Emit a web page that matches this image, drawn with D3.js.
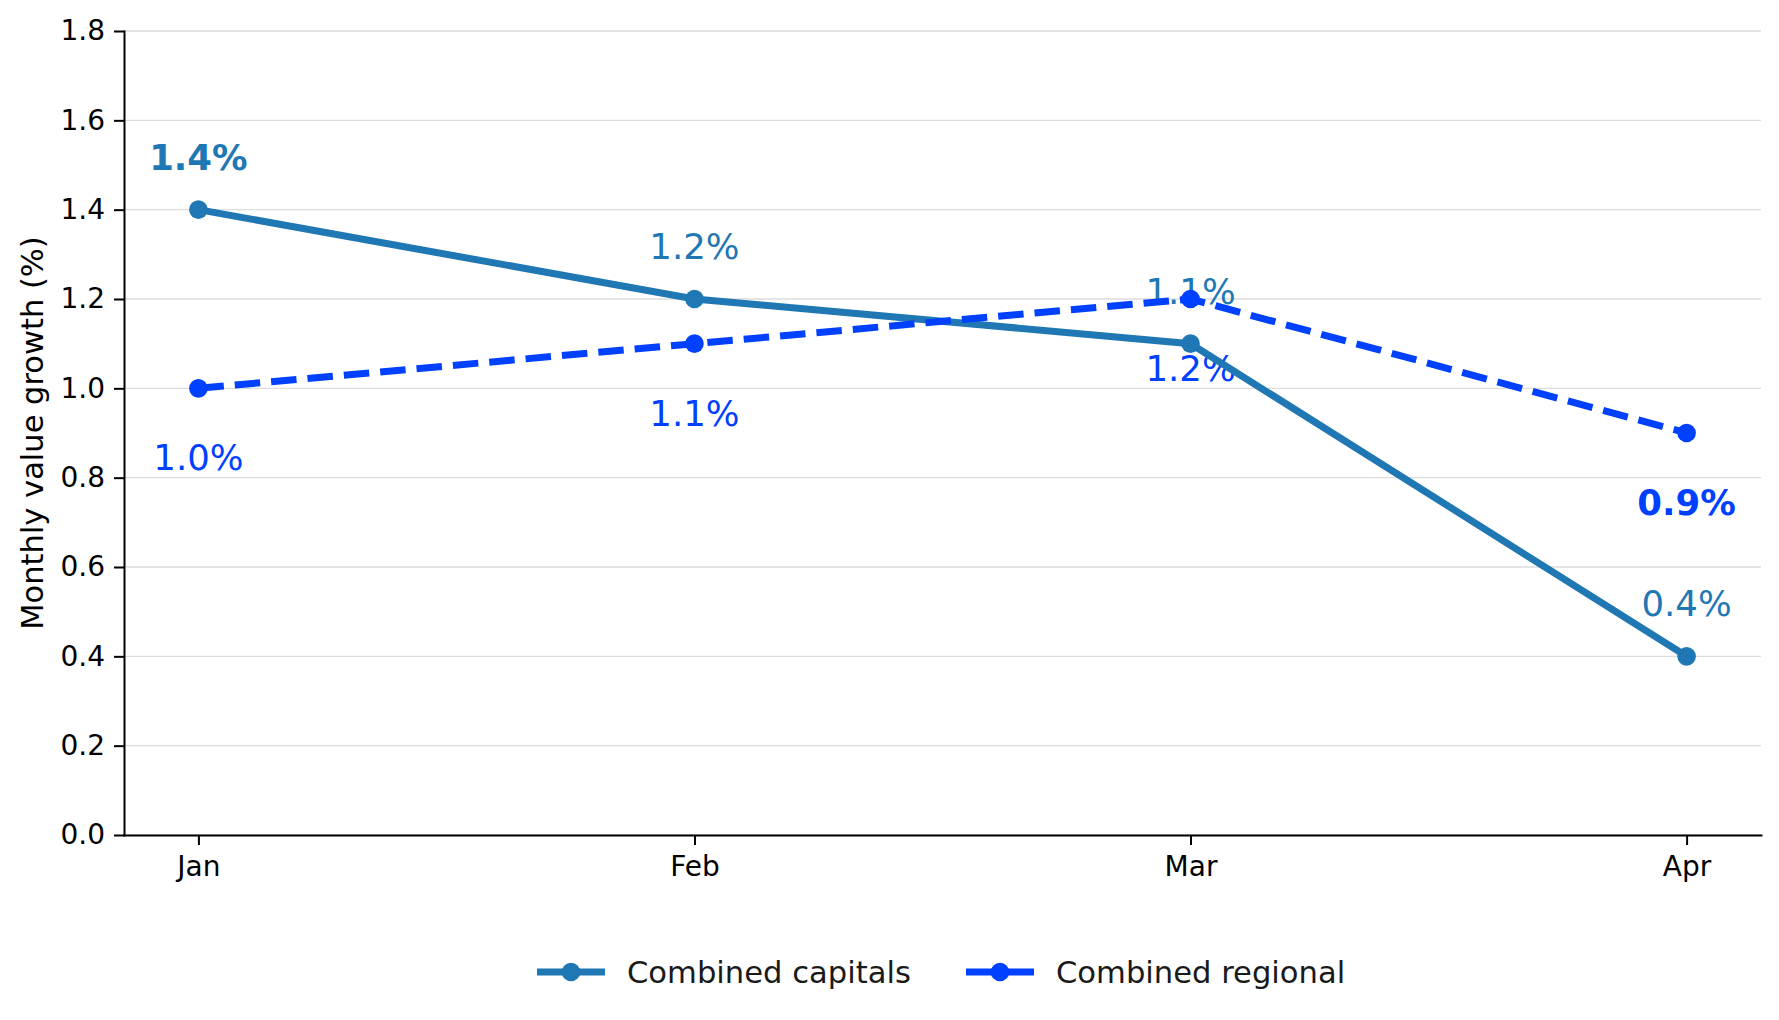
<!DOCTYPE html>
<html>
<head>
<meta charset="utf-8">
<script src="https://cdn.jsdelivr.net/npm/d3@7"></script>
<style>
  body { margin: 0; background: #fff; }
  svg { display: block; font-family: "DejaVu Sans", sans-serif; }
  .grid line { stroke: #dddddd; stroke-width: 1.3; }
  .axis path, .axis line { stroke: #000; stroke-width: 2; }
  .axis text { font-family: "DejaVu Sans", sans-serif; font-size: 28px; fill: #000; }
</style>
</head>
<body>
<svg id="chart" width="1779" height="1020"></svg>
<script>
// Data
const months = ["Jan", "Feb", "Mar", "Apr"];
const capitals = [1.4, 1.2, 1.1, 0.4];
const regional = [1.0, 1.1, 1.2, 0.9];
const yTicks = [0, 0.2, 0.4, 0.6, 0.8, 1.0, 1.2, 1.4, 1.6, 1.8];
const seriesNames = ["Combined capitals", "Combined regional"];
const seriesColors = ["#1f77b4", "#0040ff"];
// which point label is bold, per series
const boldIndex = [0, 3];

const width = 1779, height = 1020;
const margin = { top: 31, right: 18, bottom: 185, left: 124 };

const svg = d3.select("#chart");

const x = d3.scaleLinear()
  .domain([-0.15, months.length - 1 + 0.15])
  .range([margin.left, width - margin.right]);

const y = d3.scaleLinear()
  .domain([0, 1.8])
  .range([height - margin.bottom, margin.top]);

// Grid
svg.append("g")
  .attr("class", "grid")
  .selectAll("line")
  .data(yTicks)
  .join("line")
  .attr("x1", margin.left)
  .attr("x2", width - margin.right)
  .attr("y1", d => y(d))
  .attr("y2", d => y(d));

// Axes
svg.append("g")
  .attr("class", "axis")
  .attr("transform", `translate(${margin.left},0)`)
  .call(d3.axisLeft(y).tickValues(yTicks).tickFormat(d3.format(".1f")).tickSize(10).tickSizeOuter(0).tickPadding(9));

svg.append("g")
  .attr("class", "axis")
  .attr("transform", `translate(0,${height - margin.bottom})`)
  .call(d3.axisBottom(x).tickValues(d3.range(months.length)).tickFormat(i => months[i]).tickSize(10).tickSizeOuter(0).tickPadding(11));

svg.selectAll(".axis .domain").attr("stroke-linecap", "square");

// Y label
svg.append("text")
  .attr("transform", `translate(32,${(margin.top + height - margin.bottom) / 2}) rotate(-90)`)
  .attr("text-anchor", "middle")
  .attr("dominant-baseline", "central")
  .style("font-size", "30.5px")
  .style("fill", "#000")
  .text("Monthly value growth (%)");

// Point labels (drawn under the lines)
const series = [capitals, regional];
series.forEach((vals, s) => {
  svg.append("g")
    .selectAll("text")
    .data(vals)
    .join("text")
    .attr("x", (d, i) => x(i))
    .attr("y", d => s === 0 ? y(d) - 40 : y(d) + 82)
    .attr("text-anchor", "middle")
    .style("font-size", "35.5px")
    .style("font-weight", (d, i) => i === boldIndex[s] ? "bold" : "normal")
    .style("fill", seriesColors[s])
    .text(d => d.toFixed(1) + "%");
});

// Lines
const line = d3.line().x((d, i) => x(i)).y(d => y(d));

series.forEach((vals, s) => {
  svg.append("path")
    .datum(vals)
    .attr("d", line)
    .attr("fill", "none")
    .attr("stroke", seriesColors[s])
    .attr("stroke-width", 7)
    .attr("stroke-dasharray", s === 1 ? "25.5,11" : null);

  svg.append("g")
    .selectAll("circle")
    .data(vals)
    .join("circle")
    .attr("cx", (d, i) => x(i))
    .attr("cy", d => y(d))
    .attr("r", 9.3)
    .attr("fill", seriesColors[s]);
});

// Legend
const legendY = 972;
const legendX = [537, 966];
seriesNames.forEach((name, s) => {
  const g = svg.append("g").attr("transform", `translate(${legendX[s]},${legendY})`);
  g.append("line")
    .attr("x1", 0).attr("x2", 68)
    .attr("stroke", seriesColors[s])
    .attr("stroke-width", 7);
  g.append("circle").attr("cx", 34).attr("r", 9.3).attr("fill", seriesColors[s]);
  g.append("text")
    .attr("x", 90)
    .attr("dominant-baseline", "central")
    .style("font-size", "30.6px")
    .style("fill", "#1a1a1a")
    .text(name);
});
</script>
</body>
</html>
